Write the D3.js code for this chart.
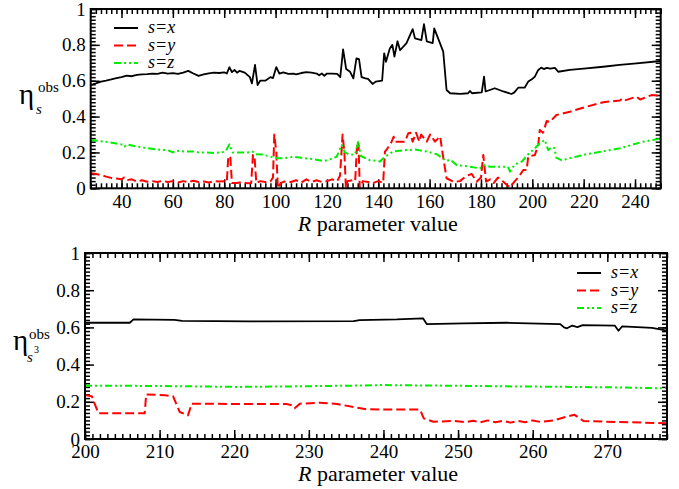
<!DOCTYPE html>
<html lang="en">
<head>
<meta charset="UTF-8">
<title>eta obs vs R</title>
<script src="https://d3js.org/d3.v7.min.js"></script>
<style>
    body { margin: 0; background: #fff; }
    .frame { fill: none; stroke: #000; stroke-width: 2px; }
    .axis path { display: none; }
    .axis line { stroke: #000; stroke-width: 1.5px; }
</style>
</head>
<body>
<svg width="679" height="489"></svg>
<script>
// top panel: eta_s^obs against R
var topSx = [[28,0.576],[30,0.585],[32,0.595],[34,0.60],[36,0.607],[38,0.615],[40,0.62],[42,0.628],[44,0.625],[46,0.633],[48,0.635],[50,0.637],[52,0.64],[54,0.638],[56,0.645],[58,0.64],[60,0.642],[62,0.638],[64,0.645],[66,0.655],[68,0.64],[70,0.627],[72,0.635],[74,0.641],[76,0.645],[78,0.643],[80,0.647],[81,0.64],[82,0.675],[83,0.648],[84,0.66],[85,0.645],[86,0.655],[88,0.645],[90,0.62],[90.8,0.585],[92,0.688],[93,0.576],[94,0.6],[96,0.6],[98,0.62],[99,0.615],[100.3,0.676],[101.5,0.64],[103,0.647],[105,0.638],[107,0.64],[108,0.636],[110,0.643],[112,0.648],[114,0.645],[116,0.64],[117,0.63],[118,0.64],[119,0.628],[120,0.64],[122,0.64],[124,0.638],[125.2,0.62],[126.3,0.775],[127.5,0.665],[129,0.65],[130.3,0.613],[131.5,0.725],[132.5,0.72],[133.5,0.62],[135,0.613],[136,0.61],[137.8,0.582],[139,0.595],[141.5,0.6],[142.3,0.753],[143,0.706],[144.5,0.78],[145.5,0.8],[146.3,0.734],[147.5,0.82],[148.5,0.77],[151,0.81],[153.4,0.888],[154.3,0.836],[156.8,0.827],[157.8,0.915],[158.9,0.82],[161.2,0.81],[161.8,0.892],[165.3,0.762],[166.6,0.548],[168,0.53],[172,0.527],[175,0.53],[175.7,0.543],[176.5,0.53],[180.3,0.535],[181.2,0.623],[181.8,0.54],[185.4,0.558],[188.7,0.54],[191.9,0.526],[193,0.535],[194.5,0.561],[197,0.561],[198.4,0.595],[200,0.61],[201,0.623],[202.3,0.66],[203.5,0.673],[204.5,0.665],[205.6,0.672],[207,0.667],[208.8,0.672],[210.1,0.65],[214.6,0.66],[220,0.668],[227.6,0.678],[234,0.688],[240.6,0.697],[250,0.71]];

var topSy = [[28,0.084],[30,0.08],[32,0.074],[34,0.065],[36,0.058],[38,0.055],[40,0.05],[41,0.06],[42,0.045],[44,0.05],[46,0.037],[48,0.045],[50,0.037],[52,0.04],[54,0.035],[56,0.042],[58,0.035],[60,0.04],[62,0.032],[64,0.04],[66,0.035],[68,0.042],[70,0.035],[72,0.038],[74,0.032],[76,0.04],[78,0.038],[80,0.04],[81,0.035],[81.6,0.18],[82.4,0.17],[83,0.03],[85,0.03],[87,0.035],[89,0.028],[90.5,0.03],[91.2,0.186],[91.8,0.18],[92.5,0.03],[94,0.04],[96,0.035],[98,0.038],[99,0.06],[99.5,0.3],[100.3,0.2],[100.9,0.0],[102,0.03],[104,0.04],[106,0.035],[108,0.045],[110,0.032],[112,0.05],[114,0.035],[116,0.045],[118,0.035],[120,0.04],[122,0.05],[124,0.04],[125.1,0.07],[126.1,0.3],[126.8,0.2],[127.4,0.0],[128,0.04],[130,0.045],[131,0.04],[131.8,0.26],[132.3,0.25],[132.8,0.0],[134,0.04],[136,0.035],[138,0.03],[140,0.04],[141.9,0.03],[142.6,0.204],[143.5,0.22],[145.2,0.26],[146,0.288],[146.5,0.26],[150.4,0.26],[151.7,0.307],[152.5,0.31],[153.4,0.26],[154.7,0.31],[156,0.26],[156.7,0.3],[158.9,0.26],[160.2,0.30],[162.1,0.26],[164.1,0.29],[165,0.2],[166.6,0.056],[169.2,0.037],[171.8,0.04],[174.4,0.07],[176.4,0.08],[178.3,0.037],[180,0.06],[180.9,0.186],[182,0.037],[183.6,0.05],[185,0.03],[186.6,0.06],[188.7,0.037],[190,0.02],[191.3,0.005],[193.2,0.04],[194.5,0.06],[196.5,0.102],[197.8,0.102],[198.4,0.176],[201,0.186],[202.3,0.241],[202.9,0.325],[204.2,0.31],[205.6,0.375],[206.8,0.37],[209.4,0.409],[214.6,0.427],[221.1,0.455],[227.6,0.48],[234.1,0.49],[235,0.5],[236,0.49],[240.6,0.511],[242,0.495],[246.4,0.52],[250,0.516]];

var topSz = [[28,0.27],[33.5,0.26],[38,0.25],[40,0.245],[41.2,0.232],[42,0.245],[46.4,0.232],[50.3,0.223],[55,0.215],[58,0.212],[60,0.2],[61,0.21],[65,0.205],[68.4,0.205],[70,0.2],[73,0.2],[76.2,0.197],[78.8,0.2],[80.5,0.205],[82,0.245],[83.3,0.2],[87,0.2],[89.1,0.2],[91.1,0.205],[92,0.19],[95,0.188],[98.2,0.176],[100.8,0.168],[103.4,0.168],[106.9,0.176],[110,0.17],[114.7,0.163],[118.6,0.152],[121,0.16],[123.8,0.176],[125.8,0.241],[127,0.2],[128.9,0.187],[131,0.19],[132.2,0.26],[133.2,0.18],[136.7,0.157],[140.6,0.15],[142.6,0.176],[145.8,0.205],[151.1,0.213],[154.3,0.216],[158.9,0.205],[162.8,0.19],[166.6,0.152],[168,0.16],[170.5,0.13],[175.1,0.122],[179.6,0.111],[180.9,0.13],[183.6,0.12],[188.7,0.12],[190.5,0.12],[191.3,0.093],[193.2,0.133],[196,0.15],[198.4,0.19],[201,0.223],[202.9,0.251],[204.9,0.27],[206.2,0.213],[207.5,0.23],[208.5,0.225],[209.4,0.17],[211.4,0.157],[221.1,0.19],[234.1,0.223],[243.1,0.26],[250,0.277]];

// bottom panel: eta_{s^3}^obs against R
var botSx = [[200,0.625],[206,0.625],[206.5,0.643],[212,0.64],[213,0.635],[222,0.632],[236,0.634],[236.8,0.639],[241.8,0.643],[245.3,0.649],[245.8,0.618],[250.7,0.622],[256.5,0.625],[263.7,0.618],[264.2,0.6],[264.6,0.595],[265.3,0.61],[266,0.602],[266.7,0.612],[271,0.61],[271.5,0.582],[272,0.606],[276,0.597],[278,0.583]];

var botSy = [[200,0.237],[200.9,0.23],[201.8,0.138],[208,0.138],[208.2,0.24],[210.7,0.235],[211.8,0.23],[212.7,0.145],[213.8,0.127],[214.3,0.19],[220.5,0.188],[227,0.188],[227.6,0.183],[228.1,0.165],[228.8,0.19],[231.5,0.195],[233.8,0.188],[236,0.172],[237.7,0.16],[240.4,0.158],[244.9,0.158],[245.4,0.111],[246.7,0.093],[249.4,0.097],[251,0.09],[252,0.098],[253,0.09],[254,0.1],[255,0.09],[256,0.098],[257,0.088],[258,0.097],[259,0.09],[260,0.1],[261,0.092],[262.8,0.1],[264.5,0.12],[265.6,0.13],[266.8,0.097],[269.9,0.093],[278,0.085]];

var botSz = [[200,0.287],[210,0.285],[220.5,0.28],[228,0.283],[236,0.287],[239.6,0.29],[247.6,0.287],[256.5,0.283],[265.5,0.28],[272,0.277],[278,0.272]];

var legendLabels = ["s=x", "s=y", "s=z"];
var yTicks = [0, 0.2, 0.4, 0.6, 0.8, 1];

var colors = ["#000000", "#ff0000", "#00ee00"];
var dashes = [null, "9,4", "7,3,2,3,2,3"];
var serif = "'Liberation Serif'";

var svg = d3.select("svg");

function drawPanel(p) {
    var x = d3.scaleLinear().domain(p.xDomain).range([p.left, p.right]);
    var y = d3.scaleLinear().domain([0, 1]).range([p.bottom, p.top]);
    var g = svg.append("g");

    var xMajor = d3.range(p.xMajorStart, p.xDomain[1] + 0.01, p.xMajorStep);
    var xMinor = d3.range(p.xDomain[0], p.xDomain[1] + 0.01, p.xMinorStep);
    var yMinor = d3.range(0, 1.001, 0.02);

    function axisG(tr) {
        return g.append("g").attr("class", "axis").attr("transform", tr);
    }

    // minor ticks, all four sides, pointing in
    axisG("translate(0," + p.bottom + ")")
        .call(d3.axisBottom(x).tickValues(xMinor).tickSize(-5).tickFormat(""));
    axisG("translate(0," + p.top + ")")
        .call(d3.axisTop(x).tickValues(xMinor).tickSize(-5).tickFormat(""));
    axisG("translate(" + p.left + ",0)")
        .call(d3.axisLeft(y).tickValues(yMinor).tickSize(-5).tickFormat(""));
    axisG("translate(" + p.right + ",0)")
        .call(d3.axisRight(y).tickValues(yMinor).tickSize(-5).tickFormat(""));

    // major ticks
    axisG("translate(0," + p.bottom + ")")
        .call(d3.axisBottom(x).tickValues(xMajor).tickSize(-9).tickPadding(6).tickFormat(d3.format("d")));
    axisG("translate(0," + p.top + ")")
        .call(d3.axisTop(x).tickValues(xMajor).tickSize(-9).tickFormat(""));
    axisG("translate(" + p.left + ",0)")
        .call(d3.axisLeft(y).tickValues(yTicks).tickSize(-9).tickPadding(p.yPad).tickFormat(function(d) { return d === 0 || d === 1 ? d : d.toFixed(1); }));
    axisG("translate(" + p.right + ",0)")
        .call(d3.axisRight(y).tickValues(yTicks).tickSize(-9).tickFormat(""));
    g.selectAll(".axis text").style("font-size", "19px").style("fill", "#000");

    // data lines
    var line = d3.line().x(function(d) { return x(d[0]); }).y(function(d) { return y(d[1]); });
    g.append("clipPath").attr("id", "clip" + p.id)
        .append("rect").attr("x", p.left).attr("y", p.top - 2)
        .attr("width", p.right - p.left).attr("height", p.bottom - p.top + 4);
    p.series.forEach(function(s, i) {
        g.append("path")
            .datum(s)
            .attr("clip-path", "url(#clip" + p.id + ")")
            .attr("fill", "none")
            .attr("stroke", colors[i])
            .attr("stroke-width", i === 0 ? 1.8 : 2)
            .attr("stroke-dasharray", dashes[i])
            .attr("stroke-linejoin", "round")
            .attr("d", line);
    });

    g.append("rect").attr("class", "frame")
        .attr("x", p.left).attr("y", p.top)
        .attr("width", p.right - p.left).attr("height", p.bottom - p.top);

    // axis title
    var t = g.append("text")
        .attr("x", (p.left + p.right) / 2 + 2).attr("y", p.titleY)
        .attr("text-anchor", "middle")
        .style("font-size", "22px");
    t.append("tspan").style("font-style", "italic").text("R");
    t.append("tspan").text(" parameter value");

    // legend
    legendLabels.forEach(function(lab, i) {
        var ly = p.legY + i * 17.5;
        g.append("line")
            .attr("x1", p.legX).attr("x2", p.legX + 24)
            .attr("y1", ly).attr("y2", ly)
            .attr("stroke", colors[i]).attr("stroke-width", 2)
            .attr("stroke-dasharray", dashes[i]);
        g.append("text")
            .attr("x", p.legX + 34).attr("y", ly + 5)
            .style("font-size", "18px").style("font-style", "italic")
            .text(lab);
    });
    return g;
}

drawPanel({
    id: "top", xDomain: [28, 250], xMajorStart: 40, xMajorStep: 20, xMinorStep: 2,
    left: 90.7, right: 660.7, top: 9, bottom: 188.3, titleY: 231, yPad: 5,
    legX: 114, legY: 28, series: [topSx, topSy, topSz]
});

drawPanel({
    id: "bot", xDomain: [200, 278], xMajorStart: 200, xMajorStep: 10, xMinorStep: 1,
    left: 85, right: 667, top: 253, bottom: 439, titleY: 481, yPad: 5,
    legX: 577, legY: 273, series: [botSx, botSy, botSz]
});

// y labels
var yl1 = svg.append("g");
yl1.append("text").attr("x", 19).attr("y", 104).style("font-size", "29px").text("\u03b7");
yl1.append("text").attr("x", 36).attr("y", 114).style("font-size", "15px").style("font-style", "italic").text("s");
yl1.append("text").attr("x", 38).attr("y", 92).style("font-size", "15px").text("obs");

var yl2 = svg.append("g");
yl2.append("text").attr("x", 13).attr("y", 350).style("font-size", "29px").text("\u03b7");
yl2.append("text").attr("x", 27).attr("y", 362).style("font-size", "15px").style("font-style", "italic").text("s");
yl2.append("text").attr("x", 34).attr("y", 353).style("font-size", "10px").text("3");
yl2.append("text").attr("x", 29).attr("y", 339).style("font-size", "15px").text("obs");

svg.selectAll("text").style("font-family", serif);
</script>
</body>
</html>
